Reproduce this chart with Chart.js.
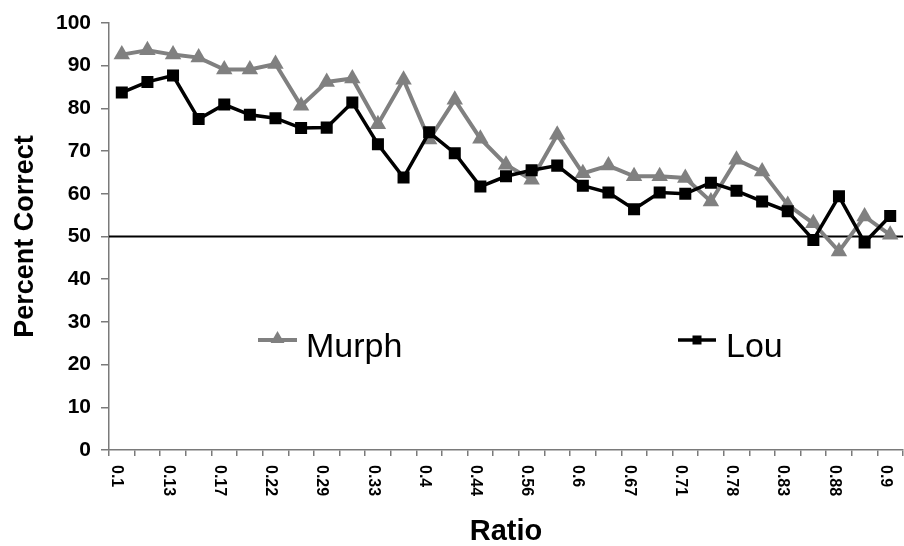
<!DOCTYPE html>
<html>
<head>
<meta charset="utf-8">
<script src="https://cdn.jsdelivr.net/npm/chart.js@4/dist/chart.umd.min.js"></script>
<style>
  html, body { margin: 0; padding: 0; background: #ffffff; }
  #wrap { width: 904px; height: 546px; }
</style>
</head>
<body>
<div id="wrap"><canvas id="c" width="904" height="546"></canvas></div>
<script>
// Ratio categories (only every other category is labelled on the axis)
const categories = ['0.1','','0.13','','0.17','','0.22','','0.29','','0.33','','0.4','','0.44','',
                    '0.56','','0.6','','0.67','','0.71','','0.78','','0.83','','0.88','','0.9'];
const murph = [92.6, 93.6, 92.6, 91.9, 89.1, 89.1, 90.4, 80.6, 86.2, 87.0, 76.3, 86.7, 72.7, 82.0, 72.9, 66.8,
               63.3, 73.8, 64.8, 66.6, 64.1, 64.1, 63.7, 58.2, 68.0, 65.2, 57.4, 53.1, 46.5, 54.7, 50.4];
const lou   = [83.7, 86.2, 87.7, 77.5, 80.9, 78.5, 77.7, 75.4, 75.5, 81.4, 71.6, 63.8, 74.4, 69.5, 61.7, 64.1,
               65.5, 66.6, 61.9, 60.3, 56.4, 60.3, 60.0, 62.6, 60.7, 58.2, 55.9, 49.2, 59.4, 48.6, 54.8];
const yTicks = [0, 10, 20, 30, 40, 50, 60, 70, 80, 90, 100];
const chanceLevel = 50;

const MURPH_COLOR = '#808080';
const LOU_COLOR = '#000000';
const AXIS_COLOR = '#7a7a7a';
const FONT = '"Liberation Sans", Arial, Helvetica, sans-serif';

const refLinePlugin = {
  id: 'refLine',
  beforeDatasetsDraw(chart) {
    const ctx = chart.ctx;
    const y = chart.scales.y.getPixelForValue(chanceLevel);
    const { left, right } = chart.chartArea;
    ctx.save();
    ctx.strokeStyle = '#000';
    ctx.lineWidth = 2;
    ctx.beginPath();
    ctx.moveTo(left, y);
    ctx.lineTo(right, y);
    ctx.stroke();
    ctx.restore();
  }
};

const xLabelPlugin = {
  id: 'xLabels',
  afterDraw(chart) {
    const ctx = chart.ctx;
    const xs = chart.scales.x;
    ctx.save();
    ctx.font = 'bold 16px ' + FONT;
    ctx.fillStyle = '#000';
    ctx.textAlign = 'left';
    ctx.textBaseline = 'middle';
    categories.forEach((lbl, i) => {
      if (!lbl) return;
      const x = xs.getPixelForValue(i) - 5;
      ctx.save();
      ctx.translate(x, xs.top + 15);
      ctx.rotate(Math.PI / 2);
      ctx.fillText(lbl, 0, 0);
      ctx.restore();
    });
    ctx.restore();
  }
};

function drawTriangle(ctx, x, y, r) {
  ctx.beginPath();
  ctx.moveTo(x, y - r);
  ctx.lineTo(x + r * Math.sqrt(3) / 2, y + r / 2);
  ctx.lineTo(x - r * Math.sqrt(3) / 2, y + r / 2);
  ctx.closePath();
  ctx.fill();
}

const legendPlugin = {
  id: 'customLegend',
  afterDraw(chart) {
    const ctx = chart.ctx;
    const items = [
      { ds: chart.data.datasets[0], x0: 258, x1: 297, y: 340, tx: 306 },
      { ds: chart.data.datasets[1], x0: 678, x1: 716, y: 340, tx: 726 }
    ];
    ctx.save();
    items.forEach(it => {
      const c = it.ds.borderColor;
      ctx.strokeStyle = c;
      ctx.fillStyle = c;
      ctx.lineWidth = it.ds.borderWidth;
      ctx.beginPath();
      ctx.moveTo(it.x0, it.y);
      ctx.lineTo(it.x1, it.y);
      ctx.stroke();
      const cx = (it.x0 + it.x1) / 2;
      if (it.ds.pointStyle === 'triangle') {
        drawTriangle(ctx, cx, it.y - 1, 8);
      } else {
        ctx.fillRect(cx - 4.5, it.y - 4.5, 9, 9);
      }
      ctx.fillStyle = '#000';
      ctx.font = '34px ' + FONT;
      ctx.textAlign = 'left';
      ctx.textBaseline = 'alphabetic';
      ctx.fillText(it.ds.label, it.tx, 356.5);
    });
    ctx.restore();
  }
};

new Chart(document.getElementById('c'), {
  type: 'line',
  data: {
    labels: categories,
    datasets: [
      {
        label: 'Murph',
        data: murph,
        borderColor: MURPH_COLOR,
        backgroundColor: MURPH_COLOR,
        borderWidth: 4,
        pointStyle: 'triangle',
        pointRadius: 9.5,
        pointBorderWidth: 0,
        pointBackgroundColor: MURPH_COLOR,
        tension: 0,
        order: 2
      },
      {
        label: 'Lou',
        data: lou,
        borderColor: LOU_COLOR,
        backgroundColor: LOU_COLOR,
        borderWidth: 3.5,
        pointStyle: 'rect',
        pointRadius: 8.5,
        pointBorderWidth: 0,
        pointBackgroundColor: LOU_COLOR,
        tension: 0,
        order: 1
      }
    ]
  },
  options: {
    responsive: false,
    animation: false,
    devicePixelRatio: 1,
    layout: { autoPadding: false, padding: { top: 23, right: 1, bottom: 0, left: 0 } },
    plugins: {
      legend: { display: false },
      tooltip: { enabled: false }
    },
    scales: {
      x: {
        type: 'category',
        offset: true,
        grid: {
          offset: true,
          drawOnChartArea: false,
          drawTicks: true,
          tickLength: 6,
          color: AXIS_COLOR,
          lineWidth: 1.5
        },
        border: { display: true, color: AXIS_COLOR, width: 1.5 },
        ticks: { display: false, autoSkip: false },
        title: {
          display: true,
          text: 'Ratio',
          color: '#000',
          font: { family: FONT, size: 29, weight: 'bold', lineHeight: 1 },
          padding: { top: 0, bottom: 0 }
        },
        afterFit(scale) { scale.height = 96; }
      },
      y: {
        min: 0,
        max: 100,
        afterBuildTicks(scale) { scale.ticks = yTicks.map(v => ({ value: v })); },
        grid: {
          drawOnChartArea: false,
          drawTicks: true,
          tickLength: 8,
          color: AXIS_COLOR,
          lineWidth: 1.5
        },
        border: { display: true, color: AXIS_COLOR, width: 1.5 },
        ticks: {
          color: '#000',
          padding: 10,
          font: { family: FONT, size: 21, weight: 'bold' }
        },
        title: {
          display: true,
          text: 'Percent Correct',
          color: '#000',
          font: { family: FONT, size: 27, weight: 'bold', lineHeight: 1 },
          padding: { top: 12, bottom: 0 }
        },
        afterFit(scale) { scale.width = 109; }
      }
    }
  },
  plugins: [refLinePlugin, xLabelPlugin, legendPlugin]
});
</script>
</body>
</html>
